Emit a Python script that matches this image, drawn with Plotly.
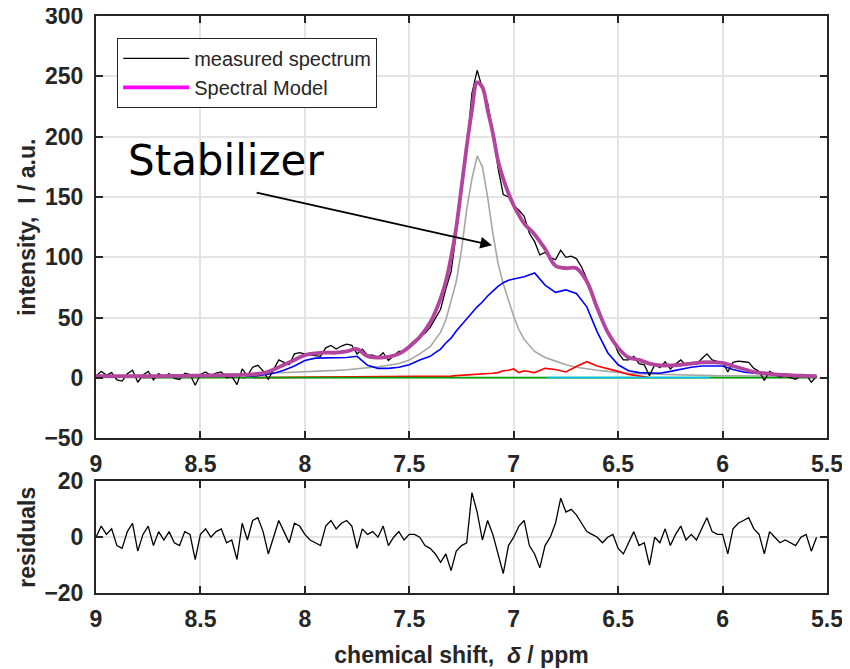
import numpy as np
import plotly.graph_objects as go
from plotly.subplots import make_subplots

# measured spectrum + residuals, sampled every 0.025 ppm from 9.0 to 5.55
ppm = np.linspace(9.0, 5.55, 139)

measured = [
    1.5, 5.5, 2.5, 4.5, -1.5, -2.5, 3.5, 6.5, -3.5, 2.5,
    5.5, -1.5, 3.6, 0.6, 3.7, -0.3, -1.2, 3.9, 2.9, -6,
    3, 5, 2, 4, 5, 0.3, 1.4, -5.5, 7.6, 1.8,
    9, 10.5, 6, -1, 7, 15, 13, 11, 20, 21,
    20, 19, 18.5, 18, 25, 27, 24, 26.5, 28, 27,
    20, 24, 19, 19, 17, 21, 14.5, 18.5, 22, 22,
    27, 31, 34, 37, 42, 49, 57, 74, 88, 120,
    155, 190, 236, 255, 240, 228, 204, 174, 152, 150,
    143, 139, 134, 120, 113, 102, 104, 100, 98, 106,
    100, 101, 99, 92, 82, 71, 58, 46, 38, 32,
    21, 15, 15, 18, 12, 11, 2, 11, 8.5, 13.5,
    7.5, 11.7, 15, 10.5, 13, 11.5, 16, 20, 15, 13.8,
    13.5, 5, 13, 14, 13.5, 13, 8, 5.5, -2, 5.5,
    3, 0.7, 1.5, 0.2, -1, 1.9, 2.8, -3.4, 1.5,
]

residuals = [
    0, 4, 1, 3, -3, -4, 2, 5, -5, 1,
    4, -3, 2, -1, 2, -2, -3, 2, 1, -8,
    1, 3, 0, 2, 3, -2, -1, -8, 5, -1,
    6, 7, 2, -6, 0, 6, 2, -2, 5, 4,
    1, -1, -2, -3, 4, 6, 3, 5, 6, 4,
    -4, 3, 1, 2, 0, 4, -3, 0, 2, -1,
    1, 1, 0, -3, -4, -6, -9, -6, -12, -5,
    -3, -2, 16, 9, -1, 6, 1, -6, -13, -3,
    0, 4, 6, -3, -6, -11, -3, 0, 5, 14,
    9, 10, 8, 5, 2, 1, 0, -2, 0, 1,
    -4, -6, -2, 2, -3, -2, -10, 0, -2, 3,
    -3, 1, 4, -1, 1, -1, 3, 7, 2, 1,
    1, -6, 3, 5, 6, 7, 3, 1, -6, 2,
    0, -2, -1, -2, -3, 0, 1, -5, 0,
]

# fitted model and its components (finer sampling around the main peak)
ppm_fit = [
    9.00, 8.95, 8.90, 8.85, 8.80, 8.75, 8.70, 8.65, 8.60, 8.55,
    8.50, 8.45, 8.40, 8.35, 8.30, 8.25, 8.20, 8.15, 8.10, 8.05,
    8.00, 7.95, 7.90, 7.85, 7.80, 7.75, 7.70, 7.65, 7.60, 7.55,
    7.50, 7.45,
    7.400, 7.375, 7.350, 7.325, 7.300, 7.275, 7.250, 7.225, 7.200, 7.175,
    7.150, 7.125, 7.100, 7.075, 7.050, 7.025, 7.000, 6.975, 6.950,
    6.90, 6.85, 6.80, 6.75, 6.70, 6.65, 6.60, 6.55, 6.50, 6.45,
    6.40, 6.35, 6.30, 6.25, 6.20, 6.15, 6.10, 6.05, 6.00, 5.95,
    5.90, 5.85, 5.80, 5.75, 5.70, 5.65, 5.60, 5.55,
]

model = [
    1.5, 1.5, 1.5, 1.5, 1.5, 1.5, 1.6, 1.7, 1.8, 1.9,
    2.0, 2.1, 2.2, 2.4, 2.6, 3, 4, 7, 11, 15,
    19, 20.5, 21, 21, 22, 24, 18, 17, 17.5, 20,
    26, 34,
    46, 55, 66, 80, 100, 125, 158, 192, 222, 245,
    241, 222, 203, 180, 165, 153, 143, 135, 128,
    119, 107, 93, 91, 91, 80, 58, 38, 25, 17,
    15, 12, 10.5, 10.5, 11, 12, 13, 13, 12.5, 10,
    7.5, 5, 4, 3, 2.5, 2, 1.8, 1.5,
]

stabilizer = [
    1.5, 1.5, 1.6, 1.7, 1.8, 1.9, 2.0, 2.1, 2.2, 2.3,
    2.5, 2.6, 2.8, 3.0, 3.2, 3.4, 3.7, 4.0, 4.3, 4.6,
    5.0, 5.4, 5.8, 6.3, 6.9, 7.6, 8.4, 9.4, 10.6, 12,
    15, 20,
    26, 32, 38, 48, 63, 80, 106, 140, 165, 184,
    175, 150, 120, 95, 78, 64, 51, 40, 32,
    22, 17, 14, 11, 9, 7.5, 6.5, 5.5, 4.5, 4,
    3.5, 3.2, 3, 2.7, 2.5, 2.3, 2.1, 2, 1.9, 1.8,
    1.7, 1.6, 1.5, 1.5, 1.4, 1.4, 1.3, 1.3,
]

comp_blue = [None] * 14 + [
    0, 1, 2.5, 4, 6.5, 10, 14.5, 16.5, 16.5, 16.5,
    17, 18, 10.5, 8, 8, 9, 11, 15,
    18, 21, 24, 29, 33, 39, 44, 49, 54, 59,
    63, 68, 72, 76, 79, 81, 82, 83, 84,
    87, 77, 71, 73, 70, 59, 38, 21, 11, 6,
    4.5, 4, 4, 5.5, 7.5, 9, 10, 10, 10, 7,
    5, 4, 3.5, 3, 2.5, 2, 1.7, 1.5,
]

comp_red = [None] * 15 + [
    0.3, 0.35, 0.4, 0.4, 0.45, 0.5, 0.5, 0.55, 0.6, 0.6,
    0.65, 0.7, 0.7, 0.75, 0.8, 0.8, 0.9,
    1, 1, 1.2, 1.4, 1.6, 2, 2.2, 2.5, 2.8, 3,
    3.3, 3.6, 4, 4.5, 6, 6.5, 7.5, 4.5, 6,
    4.5, 8, 7, 5, 9.5, 13.5, 10, 8, 5.5, 3,
    1.5, 0.5,
] + [None] * 16

green_ppm = [8.78, 8.0, 7.0, 6.0, 5.55]
comp_green = [0.3, 0.3, 0.3, 0.3, 0.3]

cyan_ppm = [6.84, 6.5, 6.06]
comp_cyan = [0.4, 0.5, 0.4]

assert len(measured) == len(ppm) and len(residuals) == len(ppm)
for arr in (model, stabilizer, comp_blue, comp_red):
    assert len(arr) == len(ppm_fit), len(arr)

xticks = [9, 8.5, 8, 7.5, 7, 6.5, 6, 5.5]
xticklabels = ['9', '8.5', '8', '7.5', '7', '6.5', '6', '5.5']

AX = '#262626'
GRID = '#e4e4e4'
tickfont = dict(family='Liberation Sans', size=23, color=AX, weight='bold')
titlefont = dict(family='Liberation Sans', size=23, color=AX, weight='bold')

fig = make_subplots(rows=2, cols=1, shared_xaxes=False, vertical_spacing=0.0)

fig.add_trace(go.Scatter(x=ppm_fit, y=stabilizer, mode='lines', line=dict(color='#a6a6a6', width=1.6),
                         showlegend=False), row=1, col=1)
fig.add_trace(go.Scatter(x=ppm_fit, y=comp_blue, mode='lines', line=dict(color='#0000ff', width=1.6),
                         showlegend=False), row=1, col=1)
fig.add_trace(go.Scatter(x=ppm_fit, y=comp_red, mode='lines', line=dict(color='#ff0000', width=1.6),
                         showlegend=False), row=1, col=1)
fig.add_trace(go.Scatter(x=green_ppm, y=comp_green, mode='lines', line=dict(color='#00a000', width=1.6),
                         showlegend=False), row=1, col=1)
fig.add_trace(go.Scatter(x=cyan_ppm, y=comp_cyan, mode='lines', line=dict(color='#00bfff', width=1.6),
                         showlegend=False), row=1, col=1)
fig.add_trace(go.Scatter(x=ppm, y=measured, mode='lines', line=dict(color='black', width=1.3),
                         name='measured spectrum'), row=1, col=1)
fig.add_trace(go.Scatter(x=ppm_fit, y=model, mode='lines', line=dict(color='#b3459f', width=3.8, shape='spline'),
                         showlegend=False), row=1, col=1)
# legend entry for the model drawn in the pure magenta of the original legend
fig.add_trace(go.Scatter(x=[None], y=[None], mode='lines', line=dict(color='#ff00ff', width=3.8),
                         name='Spectral Model'), row=1, col=1)

fig.add_trace(go.Scatter(x=ppm, y=residuals, mode='lines', line=dict(color='black', width=1.3),
                         showlegend=False), row=2, col=1)

axis_common = dict(showline=True, linecolor=AX, linewidth=2, mirror='ticks', ticks='inside',
                   ticklen=7, tickwidth=1.5, tickcolor=AX, showgrid=True, gridcolor=GRID, gridwidth=1.5,
                   zeroline=False, tickfont=tickfont, automargin=False, ticklabeloverflow='allow')

fig.update_xaxes(range=[9, 5.5], tickvals=xticks, ticktext=xticklabels, ticklabelstandoff=4, **axis_common)
fig.update_xaxes(title=dict(text='chemical shift,\u00a0\u00a0<i>\u03b4</i> / ppm', font=titlefont, standoff=16),
                 row=2, col=1)
fig.update_yaxes(range=[-50, 300], dtick=50, row=1, col=1, ticklabelstandoff=6,
                 title=dict(text='intensity,  I / a.u.', font=titlefont, standoff=2), **axis_common)
fig.update_yaxes(range=[-20, 20], tickvals=[-20, 0, 20], row=2, col=1, ticklabelstandoff=6,
                 title=dict(text='residuals', font=titlefont, standoff=2), **axis_common)

# the page body adds an 8 px margin, so the figure is 16 px smaller and margins shifted by 8 px
fig.update_layout(
    yaxis=dict(domain=[0.268, 1.0]),
    yaxis2=dict(domain=[0.0, 0.1934]),
    width=842, height=661,
    margin=dict(l=88, r=23, t=8, b=76, autoexpand=False),
    paper_bgcolor='white', plot_bgcolor='white',
    legend=dict(x=0.029, y=0.962, xanchor='left', yanchor='top', bgcolor='white',
                bordercolor=AX, borderwidth=1, font=dict(family='Liberation Sans', size=20, color=AX),
                tracegroupgap=0, itemwidth=66),
)

fig.add_annotation(x=7.104, y=110, ax=8.238, ay=154, xref='x', yref='y', axref='x', ayref='y',
                   showarrow=True, arrowhead=2, arrowsize=1.3, arrowwidth=1.8, arrowcolor='black', text='')
fig.add_annotation(x=8.377, y=180, xref='x', yref='y', text='Stabilizer', showarrow=False,
                   font=dict(family='DejaVu Sans', size=42, color='black'), xanchor='center', yanchor='middle')

fig.write_html("out.html")
